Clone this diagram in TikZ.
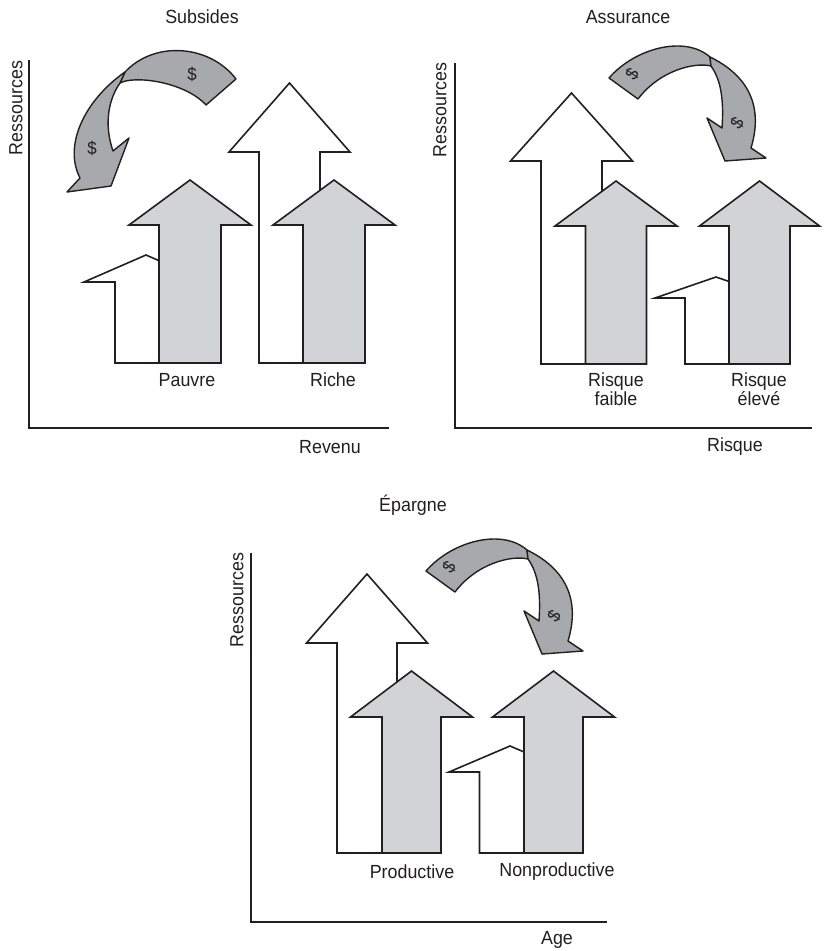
\documentclass[tikz,border=0pt]{standalone}
\usepackage{fontspec}
\setmainfont{Liberation Sans}[FakeStretch=0.94]
\definecolor{ink}{HTML}{231F20}
\definecolor{shaftgray}{HTML}{D1D3D4}
\definecolor{flowgray}{HTML}{A7A9AC}

% Block arrow pointing up: style, centre x, shaft half width, head half width,
% bottom y, head base y, apex y
\newcommand{\upblock}[7]{%
  \path[#1] ({#2-#3},#5) -- ({#2-#3},#6) -- ({#2-#4},#6) -- (#2,#7)
    -- ({#2+#4},#6) -- ({#2+#3},#6) -- ({#2+#3},#5) -- cycle;}

% Curved money flow going right then down (Assurance / Epargne)
\newcommand{\flowright}[1]{%
  \path[flowband] (609,78) .. controls (635,48) and (685,35) .. (710,57)
    -- (711,66) .. controls (695,62) and (660,70) .. (638,99) -- cycle;
  \path[flowband] (710,57) .. controls (747,75) and (764,105) .. (751,148)
    -- (766,158) -- (725,161) -- (707,118) -- (722,128)
    .. controls (724,100) and (721,80) .. (711,66) -- cycle;
  \node[money, rotate=55] (#1a) at (632,74) {\$};
  \node[money, rotate=55] (#1b) at (737,123) {\$};}

\begin{document}
\begin{tikzpicture}[x=1pt, y=-1pt,
  outline/.style={draw=ink, line width=1.6pt, line join=miter},
  hollowarrow/.style={outline, fill=white},
  grayarrow/.style={outline, fill=shaftgray},
  flowband/.style={draw=ink, line width=1.4pt, line join=round, fill=flowgray},
  axisline/.style={draw=ink, line width=1.5pt},
  lbl/.style={font=\fontsize{19}{19.5}\selectfont, text=ink, inner sep=0pt, align=center},
  money/.style={font=\fontsize{18}{20}\selectfont, text=ink, inner sep=0pt}]

\useasboundingbox[fill=white] (0,0) rectangle (826,951);

% ---------------- Subsides ----------------
\node[lbl] (t1) at (202,17) {Subsides};
\node[lbl, rotate=90] (r1) at (16,108) {Ressources};
\coordinate (o1) at (29,428);
\coordinate (y1) at (29,60);
\coordinate (x1) at (389,428);
\draw[axisline] (y1) -- (o1) -- (x1);
\node[lbl] (revenu) at (330,447) {Revenu};

\upblock{hollowarrow}{146}{31}{62}{363}{282}{255}
\upblock{hollowarrow}{289.5}{30.5}{60.5}{363}{152}{83}
\upblock{grayarrow}{190}{31}{61}{363}{225}{180}
\upblock{grayarrow}{334}{31}{61}{363}{225}{180}
\node[lbl] (pauvre) at (187,380) {Pauvre};
\node[lbl] (riche) at (333,380) {Riche};

% money flow from the rich to the poor
\path[flowband] (236,79) .. controls (210,45) and (155,40) .. (125,72)
  -- (120,83) .. controls (135,75) and (185,82) .. (206,105) -- cycle;
\path[flowband] (125,72) .. controls (85,100) and (63,145) .. (80,178)
  -- (67,192) -- (111,186) -- (129,138) -- (113,151)
  .. controls (104,125) and (108,100) .. (120,83) -- cycle;
\node[money] (d1) at (192,74) {\$};
\node[money] (d2) at (92,148) {\$};

% ---------------- Assurance ----------------
\node[lbl] (t2) at (628,17) {Assurance};
\node[lbl, rotate=90] (r2) at (440,110) {Ressources};
\coordinate (o2) at (455,428);
\coordinate (y2) at (455,63);
\coordinate (x2) at (812,428);
\draw[axisline] (y2) -- (o2) -- (x2);
\node[lbl] (risque) at (735,447) {Risque};

\upblock{hollowarrow}{571.5}{30.5}{61}{364}{161}{93}
\upblock{hollowarrow}{716}{31}{61}{364}{298}{277}
\upblock{grayarrow}{616}{30.5}{61}{364}{226}{181}
\upblock{grayarrow}{759.5}{30.5}{60}{364}{226}{181}
\node[lbl] (faible) at (616,389) {Risque\\faible};
\node[lbl] (eleve) at (759,389) {Risque\\élevé};

\flowright{m2}

% ---------------- Epargne ----------------
\node[lbl] (t3) at (413,505) {Épargne};
\node[lbl, rotate=90] (r3) at (237,600) {Ressources};
\coordinate (o3) at (251,922);
\coordinate (y3) at (251,553);
\coordinate (x3) at (607,922);
\draw[axisline] (y3) -- (o3) -- (x3);
\node[lbl] (age) at (557,940) {Age};

\upblock{hollowarrow}{367}{30}{60.5}{853}{643}{574}
\upblock{hollowarrow}{510}{30.5}{61}{853}{772}{746}
\upblock{grayarrow}{411.5}{29.5}{61}{853}{717}{671}
\upblock{grayarrow}{553.5}{29.5}{61}{853}{717}{671}
\node[lbl] (prod) at (412,872) {Productive};
\node[lbl] (nonprod) at (557,872) {Nonproductive};

\begin{scope}[shift={(-183,493)}]
  \flowright{m3}
\end{scope}

\end{tikzpicture}
\end{document}
